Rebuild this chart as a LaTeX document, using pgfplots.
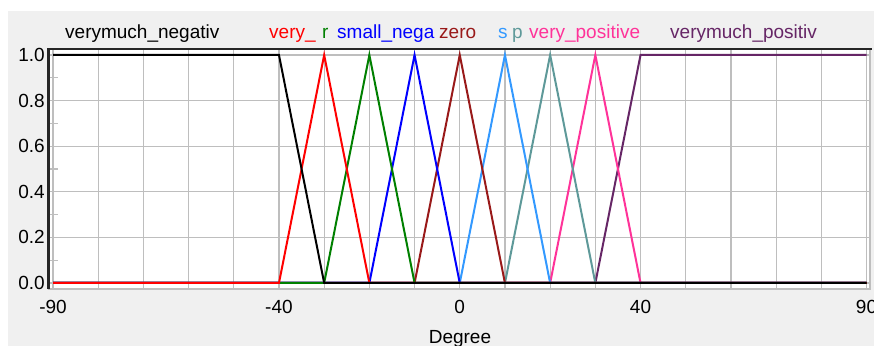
\documentclass[border=0pt]{standalone}
\usepackage{fontspec}
\setmainfont{Liberation Sans}
\usepackage{pgfplots}
\pgfplotsset{compat=1.18}
\definecolor{bgc}{HTML}{F0F0F0}
\definecolor{gridc}{HTML}{BEBEBE}
\definecolor{mfgreen}{rgb}{0,0.5,0}
\definecolor{mfdred}{rgb}{0.6,0.1,0.1}
\definecolor{mflblue}{rgb}{0.2,0.6,1}
\definecolor{mfteal}{rgb}{0.37,0.6,0.6}
\definecolor{mfpink}{rgb}{1,0.2,0.6}
\definecolor{mfpurple}{rgb}{0.4,0.15,0.4}
\begin{document}
\fontsize{19bp}{22bp}\selectfont
\begin{tikzpicture}
\useasboundingbox (0,0) rectangle (874bp,346bp);
\clip (0,0) rectangle (874bp,346bp);
\fill[white] (0,0) rectangle (874bp,346bp);
\fill[bgc] (8bp,0) rectangle (874bp,335bp);
\begin{axis}[
  at={(48.3bp,57bp)}, anchor=south west,
  scale only axis, width=821.7bp, height=240bp,
  xmin=-91.04, xmax=90.77, ymin=-0.026316, ymax=1.026316,
  clip=false,
  axis background/.style={fill=white},
  axis line style={draw=none},
  xtick={-90,-80,...,90},
  xticklabels={-90,,,,,-40,,,,0,,,,40,,,,,90},
  ytick={0,0.2,0.4,0.6,0.8,1.0},
  yticklabels={0.0,0.2,0.4,0.6,0.8,1.0},
  minor ytick={0.1,0.3,0.5,0.7,0.9},
  xtick pos=bottom, ytick pos=left,
  tick align=inside,
  major tick length=0pt, minor tick length=10bp,
  minor tick style={gridc, line width=1.2bp},
  grid=major,
  major grid style={gridc, line width=1.2bp},
  xticklabel style={anchor=north, inner sep=0pt, yshift=-11bp},
  yticklabel style={anchor=east, inner sep=0pt, xshift=-3.3bp},
  xlabel={Degree},
  xlabel style={at={(axis description cs:0.501,0)}, anchor=base, yshift=-54bp, inner sep=0pt},
  every axis plot/.append style={line width=2bp},
]
\addplot[mfpurple] coordinates {(-90,0) (30,0) (40,1) (90,1)};
\addplot[mfpink] coordinates {(-90,0) (20,0) (30,1) (40,0) (90,0)};
\addplot[mfteal] coordinates {(-90,0) (10,0) (20,1) (30,0) (90,0)};
\addplot[mflblue] coordinates {(-90,0) (0,0) (10,1) (20,0) (90,0)};
\addplot[mfdred] coordinates {(-90,0) (-10,0) (0,1) (10,0) (90,0)};
\addplot[blue] coordinates {(-90,0) (-20,0) (-10,1) (0,0) (90,0)};
\addplot[mfgreen] coordinates {(-90,0) (-30,0) (-20,1) (-10,0) (90,0)};
\addplot[red] coordinates {(-90,0) (-40,0) (-30,1) (-20,0) (90,0)};
\addplot[black] coordinates {(-90,1) (-40,1) (-30,0) (90,0)};
\draw[gridc, line width=1.2bp] (rel axis cs:0,0) -- (rel axis cs:1,0) -- (rel axis cs:1,1);
\draw[black!85, line width=2.5bp] (rel axis cs:0,0) -- (rel axis cs:0,1) -- ([xshift=1.7bp]rel axis cs:1,1);
\end{axis}
\node[anchor=base west, inner sep=0pt, text=black] at (65bp,307bp) {verymuch\_negativ};
\node[anchor=base west, inner sep=0pt, text=red] at (269bp,307bp) {very\_};
\node[anchor=base west, inner sep=0pt, text=mfgreen] at (322bp,307bp) {r};
\node[anchor=base west, inner sep=0pt, text=blue] at (337bp,307bp) {small\_nega};
\node[anchor=base west, inner sep=0pt, text=mfdred] at (439bp,307bp) {zero};
\node[anchor=base west, inner sep=0pt, text=mflblue] at (498bp,307bp) {s};
\node[anchor=base west, inner sep=0pt, text=mfteal] at (512bp,307bp) {p};
\node[anchor=base west, inner sep=0pt, text=mfpink] at (529bp,307bp) {very\_positive};
\node[anchor=base west, inner sep=0pt, text=mfpurple] at (670bp,307bp) {verymuch\_positiv};
\end{tikzpicture}
\end{document}
